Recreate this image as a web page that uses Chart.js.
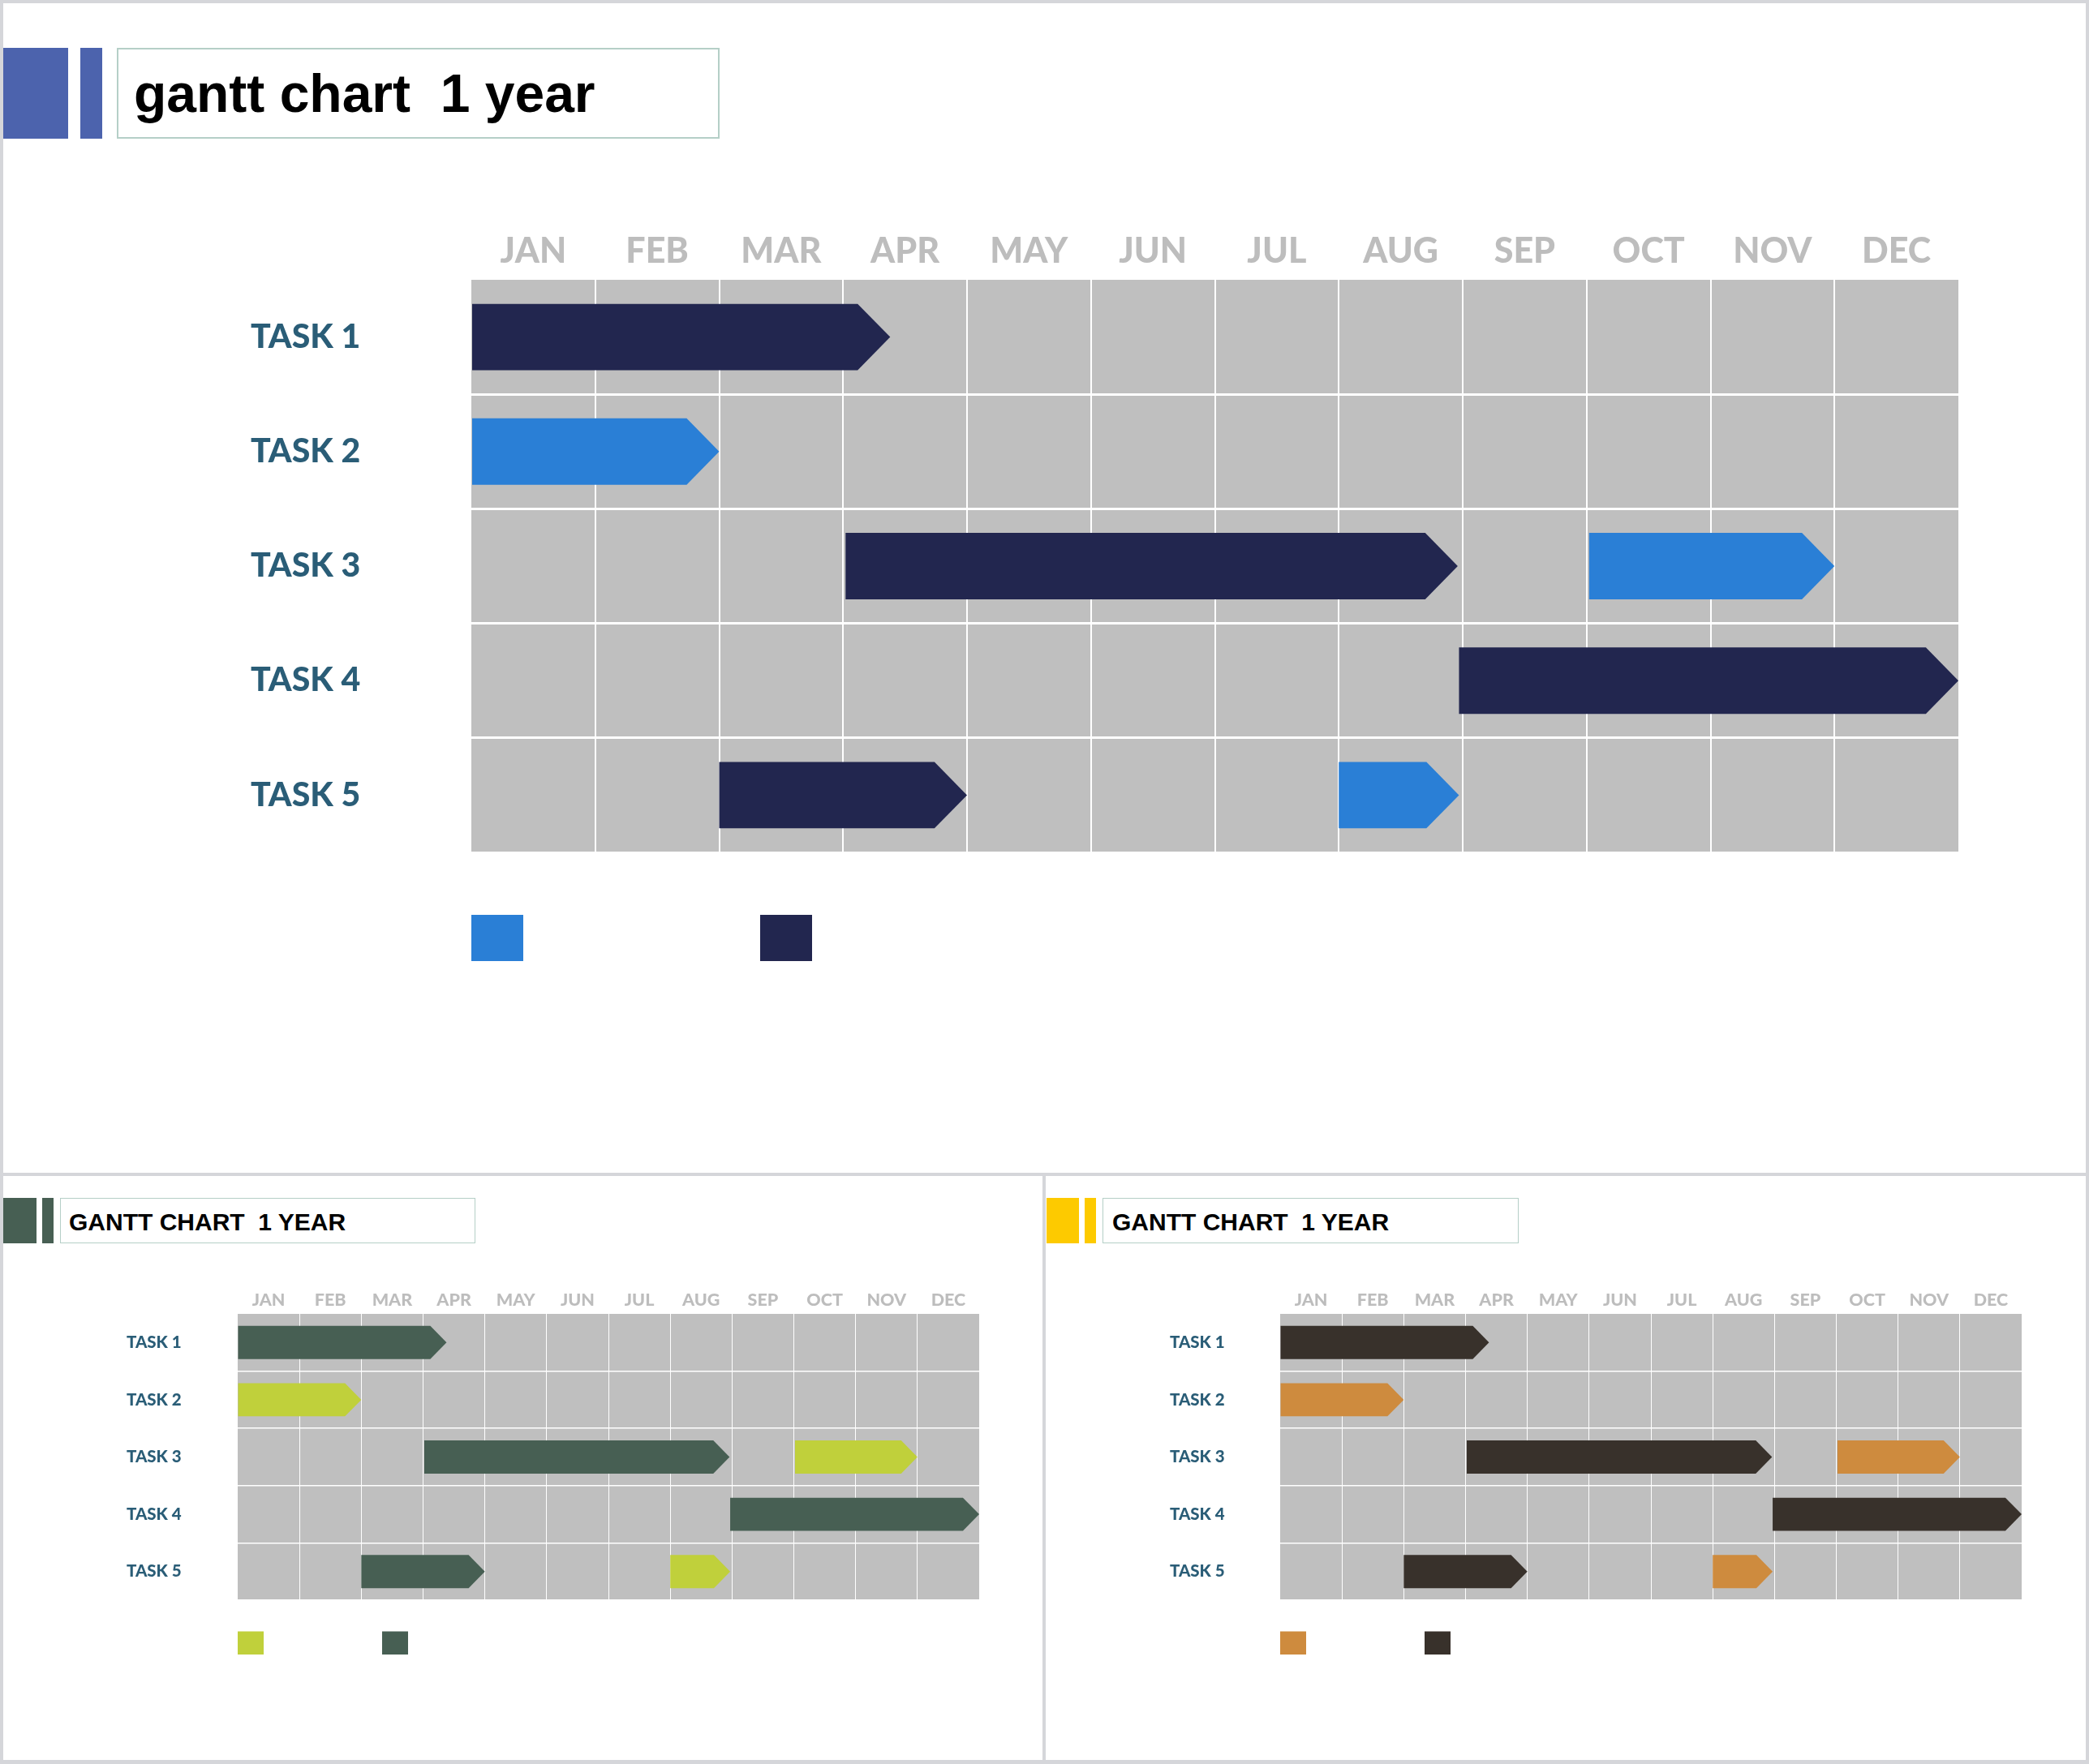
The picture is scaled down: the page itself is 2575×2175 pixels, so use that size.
<!DOCTYPE html>
<html>
<head>
<meta charset="utf-8">
<script src="https://cdn.jsdelivr.net/npm/chart.js@4.4.1/dist/chart.umd.min.js"></script>
<style>
html,body{margin:0;padding:0;background:#fff;}
#page{position:relative;width:2575px;height:2175px;overflow:hidden;background:#fff;}
.frame{position:absolute;background:#d5d6da;}
.blk{position:absolute;}
.tbox{position:absolute;box-sizing:border-box;background:#fff;}
.ttl{position:absolute;font-family:"Liberation Sans",Arial,sans-serif;font-weight:bold;color:#000;white-space:pre;}
canvas{position:absolute;}
</style>
</head>
<body>
<div id="page">
  <!-- main panel title -->
  <div class="blk" style="left:4px;top:59px;width:80px;height:112px;background:#4c63ad"></div>
  <div class="blk" style="left:99px;top:59px;width:27px;height:112px;background:#4c63ad"></div>
  <div class="tbox" style="left:144px;top:59px;width:743px;height:112px;border:2px solid #b5cfc7"></div>
  <div class="ttl" id="t0" style="left:165px;top:82px;font-size:66px;line-height:66px"></div>

  <!-- bottom left title -->
  <div class="blk" style="left:4px;top:1477px;width:41px;height:56px;background:#475f53"></div>
  <div class="blk" style="left:52px;top:1477px;width:14px;height:56px;background:#475f53"></div>
  <div class="tbox" style="left:74px;top:1477px;width:512px;height:56px;border:1.5px solid #b5cfc7"></div>
  <div class="ttl" id="t1" style="left:85px;top:1492px;font-size:30px;line-height:30px"></div>

  <!-- bottom right title -->
  <div class="blk" style="left:1290px;top:1477px;width:40px;height:56px;background:#fdca00"></div>
  <div class="blk" style="left:1337px;top:1477px;width:14px;height:56px;background:#fdca00"></div>
  <div class="tbox" style="left:1359px;top:1477px;width:513px;height:56px;border:1.5px solid #b5cfc7"></div>
  <div class="ttl" id="t2" style="left:1371px;top:1492px;font-size:30px;line-height:30px"></div>

  <canvas id="cMain" width="2560" height="1300" style="left:0px;top:0px"></canvas>
  <canvas id="cLeft" width="1280" height="700" style="left:0px;top:1450px"></canvas>
  <canvas id="cRight" width="1280" height="700" style="left:1286px;top:1450px"></canvas>

  <!-- frame lines -->
  <div class="frame" style="left:0;top:0;width:2575px;height:4px"></div>
  <div class="frame" style="left:0;top:0;width:4px;height:2175px"></div>
  <div class="frame" style="left:2571px;top:0;width:4px;height:2175px"></div>
  <div class="frame" style="left:0;top:2170px;width:2575px;height:5px"></div>
  <div class="frame" style="left:0;top:1446px;width:2575px;height:4px"></div>
  <div class="frame" style="left:1285px;top:1446px;width:4px;height:729px"></div>
</div>
<script>
// ---------- data ----------
const months = ['JAN','FEB','MAR','APR','MAY','JUN','JUL','AUG','SEP','OCT','NOV','DEC'];
const tasks = ['TASK 1','TASK 2','TASK 3','TASK 4','TASK 5'];
// [start, end] in months counted from 1 January
const phaseA = [null, [0, 2], [9.02, 11], null, [7, 7.97]];      // light series
const phaseB = [[0, 3.38], null, [3.02, 7.96], [7.97, 12], [2, 4]];  // dark series
const mainTitle = 'gantt chart  1 year';
const smallTitle = 'GANTT CHART  1 YEAR';

// ---------- styling ----------
const themes = {
  main:  ['#2a7fd6', '#22264f'],
  green: ['#c0d03b', '#475f53'],
  brown: ['#ce8b3e', '#38312b']
};
const GRID_BG = '#bfbfbf';
const LABEL_COLOR = '#2a5d77';
const MONTH_COLOR = '#bdbdbd';
const LABEL_FONT = 'Lato, "Liberation Sans", Arial, sans-serif';

document.getElementById('t0').textContent = mainTitle;
document.getElementById('t1').textContent = smallTitle;
document.getElementById('t2').textContent = smallTitle;

const ganttPlugin = {
  id: 'gantt',
  beforeDraw(chart, args, opts) {
    const {ctx, chartArea: a} = chart;
    ctx.save();
    ctx.fillStyle = GRID_BG;
    ctx.fillRect(a.left, a.top, a.right - a.left, a.bottom - a.top);
    ctx.restore();
  },
  afterDatasetsDraw(chart, args, opts) {
    const ctx = chart.ctx;
    chart.data.datasets.forEach((ds, di) => {
      const meta = chart.getDatasetMeta(di);
      meta.data.forEach((bar, i) => {
        if (ds.data[i] == null) return;
        const p = bar.getProps(['x', 'base', 'y', 'height'], true);
        const h = p.height, top = p.y - h / 2, bot = p.y + h / 2;
        const d = h * 0.49;
        ctx.save();
        ctx.fillStyle = ds.shapeColor;
        ctx.beginPath();
        ctx.moveTo(p.base, top);
        ctx.lineTo(p.x - d, top);
        ctx.lineTo(p.x, p.y);
        ctx.lineTo(p.x - d, bot);
        ctx.lineTo(p.base, bot);
        ctx.closePath();
        ctx.fill();
        ctx.restore();
      });
    });
  },
  afterDraw(chart, args, opts) {
    const {ctx, chartArea: a} = chart;
    const s = opts.s;
    chart.data.datasets.forEach((ds, di) => {
      ctx.save();
      ctx.fillStyle = ds.shapeColor;
      ctx.fillRect(a.left + di * 356 * s, a.bottom + 77 * s, 64 * s, 57 * s);
      ctx.restore();
    });
  }
};

function makeGantt(id, s, cols, box) {
  const cv = document.getElementById(id);
  const W = cv.width, H = cv.height;
  const monthAxisH = 100 * s;
  const edgeX = c => (c.tick && (c.tick.value === 0 || c.tick.value === 12)) ? 'rgba(0,0,0,0)' : '#ffffff';
  const edgeY = c => (c.index === 0 || c.index === tasks.length) ? 'rgba(0,0,0,0)' : '#ffffff';
  return new Chart(cv, {
    type: 'bar',
    data: {
      labels: tasks,
      datasets: [
        {label: '', data: phaseA, shapeColor: cols[0], backgroundColor: 'rgba(0,0,0,0)', borderWidth: 0, xAxisID: 'x'},
        {label: '', data: phaseB, shapeColor: cols[1], backgroundColor: 'rgba(0,0,0,0)', borderWidth: 0, xAxisID: 'x'}
      ]
    },
    options: {
      indexAxis: 'y',
      responsive: false,
      animation: false,
      devicePixelRatio: 1,
      datasets: {bar: {grouped: false, barPercentage: 0.58, categoryPercentage: 1}},
      layout: {padding: {left: box.labelLeft, right: W - box.right, top: box.top - monthAxisH, bottom: H - box.bottom}},
      plugins: {legend: {display: false}, tooltip: {enabled: false}, gantt: {s: s}},
      scales: {
        x: {
          type: 'linear', position: 'bottom', min: 0, max: 12,
          ticks: {display: false, stepSize: 1},
          grid: {color: edgeX, lineWidth: 2 * s, drawTicks: false},
          border: {display: false},
          afterFit: sc => { sc.height = 0; }
        },
        x2: {
          type: 'category', labels: months, position: 'top', offset: true,
          grid: {display: false, drawTicks: false},
          border: {display: false},
          ticks: {color: MONTH_COLOR, padding: 9 * s, maxRotation: 0, autoSkip: false,
                  font: {family: LABEL_FONT, size: 43 * s, weight: '900'}},
          afterFit: sc => { sc.height = monthAxisH; }
        },
        y: {
          type: 'category', offset: true,
          grid: {color: edgeY, lineWidth: 3 * s, drawTicks: false, offset: true},
          border: {display: false},
          ticks: {crossAlign: 'far', color: LABEL_COLOR, padding: 0,
                  font: {family: LABEL_FONT, size: 41 * s, weight: '900'}},
          afterFit: sc => { sc.width = box.left - box.labelLeft; }
        }
      }
    },
    plugins: [ganttPlugin]
  });
}

makeGantt('cMain', 1, themes.main, {labelLeft: 309, left: 581, right: 2414, top: 345, bottom: 1051});
makeGantt('cLeft', 0.5, themes.green, {labelLeft: 156, left: 293, right: 1207, top: 170, bottom: 523});
makeGantt('cRight', 0.5, themes.brown, {labelLeft: 156, left: 292, right: 1206, top: 170, bottom: 523});
</script>
</body>
</html>
